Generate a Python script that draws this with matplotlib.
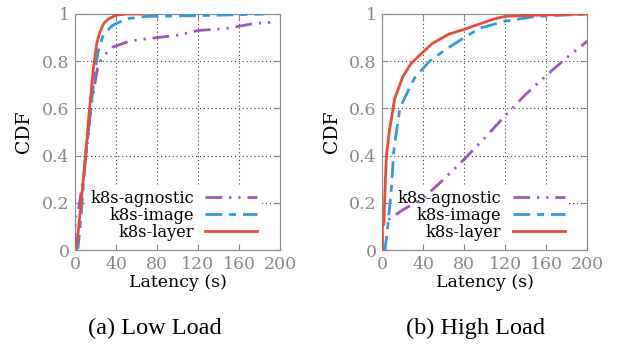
import matplotlib.pyplot as plt
import numpy as np

# Low load CDF points (latency in s, CDF)
low_agn_x = [0, 0, 3, 8, 12, 16, 20, 22, 27, 37, 50, 60, 80, 100, 120, 150, 175, 193]
low_agn_y = [0.0, 0.14, 0.16, 0.3, 0.45, 0.62, 0.72, 0.77, 0.82, 0.86, 0.88, 0.89, 0.9, 0.91, 0.93, 0.94, 0.96, 0.965]
low_img_x = [0, 3, 6, 10, 15, 19.5, 23, 27.5, 36, 50, 70, 120, 185]
low_img_y = [0.0, 0.01, 0.15, 0.38, 0.58, 0.76, 0.85, 0.91, 0.95, 0.98, 0.99, 0.993, 1.0]
low_lay_x = [0, 2, 6, 10, 14, 18, 21, 24, 28, 33, 40, 50, 65]
low_lay_y = [0.0, 0.03, 0.2, 0.39, 0.59, 0.77, 0.87, 0.92, 0.96, 0.98, 0.995, 1.0, 1.0]

# High load CDF points
high_agn_x = [0, 0, 3, 10, 20, 40, 60, 80, 100, 120, 140, 160, 180, 200]
high_agn_y = [0.0, 0.1, 0.12, 0.14, 0.17, 0.22, 0.3, 0.385, 0.475, 0.57, 0.66, 0.74, 0.815, 0.885]
high_img_x = [0, 2.5, 4, 6, 9, 11, 13, 15.5, 17, 23.5, 31.6, 46, 62, 80, 95, 120, 150, 200]
high_img_y = [0.0, 0.0, 0.05, 0.13, 0.27, 0.41, 0.48, 0.55, 0.6, 0.66, 0.73, 0.8, 0.85, 0.9, 0.94, 0.97, 0.99, 1.0]
high_lay_x = [0, 0, 1.5, 2, 3, 4, 7, 9, 12, 20, 28, 40, 49, 65, 80, 95, 110, 120, 150, 200]
high_lay_y = [0.0, 0.1, 0.11, 0.17, 0.3, 0.4, 0.51, 0.56, 0.64, 0.735, 0.79, 0.84, 0.876, 0.915, 0.935, 0.958, 0.98, 0.99, 0.995, 1.0]

labels = ['k8s-agnostic', 'k8s-image', 'k8s-layer']
colors = ['#9b59b6', '#3498db', '#e74c3c']
dashes = [(6, 2.5, 0.8, 2.5, 0.8, 2.5), (6, 2.5, 2.5, 2.5), ()]

xticks = [0, 40, 80, 120, 160, 200]
yticks = [0, 0.2, 0.4, 0.6, 0.8, 1]
ytick_labels = ['0', '0.2', '0.4', '0.6', '0.8', '1']

plt.rcParams['font.family'] = 'DejaVu Serif'
fig = plt.figure(figsize=(6.23, 3.5), dpi=100)

panels = [
    ([low_agn_x, low_img_x, low_lay_x], [low_agn_y, low_img_y, low_lay_y], '(a) Low Load', 0.1204, 0.249),
    ([high_agn_x, high_img_x, high_lay_x], [high_agn_y, high_img_y, high_lay_y], '(b) High Load', 0.6137, 0.764),
]

for xs, ys, caption, left, cap_x in panels:
    ax = fig.add_axes([left, 0.2857, 0.329, 0.6743])
    for x, y, lab, c, d in zip(xs, ys, labels, colors, dashes):
        line, = ax.plot(x, y, color=c, lw=2, label=lab, zorder=3)
        if d:
            line.set_dashes(d)
    ax.set_xlim(0, 200)
    ax.set_ylim(0, 1)
    ax.set_xticks(xticks)
    ax.set_yticks(yticks)
    ax.set_yticklabels(ytick_labels)
    ax.set_axisbelow(True)
    ax.grid(True, linestyle=(0, (1, 2.5)), color='#444444', lw=0.8)
    ax.tick_params(direction='in', top=True, right=True, colors='#888888',
                   labelsize=12.5, length=4, labelcolor='#888888', pad=4)
    for s in ax.spines.values():
        s.set_color('#888888')
    ax.set_xlabel('Latency (s)', fontsize=12.5, labelpad=1)
    ax.set_ylabel('CDF', fontsize=13.5, labelpad=6)
    leg = ax.legend(loc='lower right', bbox_to_anchor=(0.945, -0.01), markerfirst=False,
                    frameon=True, fontsize=11.7, handlelength=3.2, labelspacing=0.0,
                    borderpad=0.2, handletextpad=0.7)
    leg.get_frame().set_edgecolor('none')
    leg.get_frame().set_facecolor('white')
    leg.get_frame().set_alpha(1)
    # key box hides the grid but sits under the curves
    leg.set_zorder(2)
    fig.text(cap_x, 0.062, caption, ha='center', va='center', fontsize=17.5,
             family='Liberation Serif')

fig.savefig('out.png', dpi=100)
